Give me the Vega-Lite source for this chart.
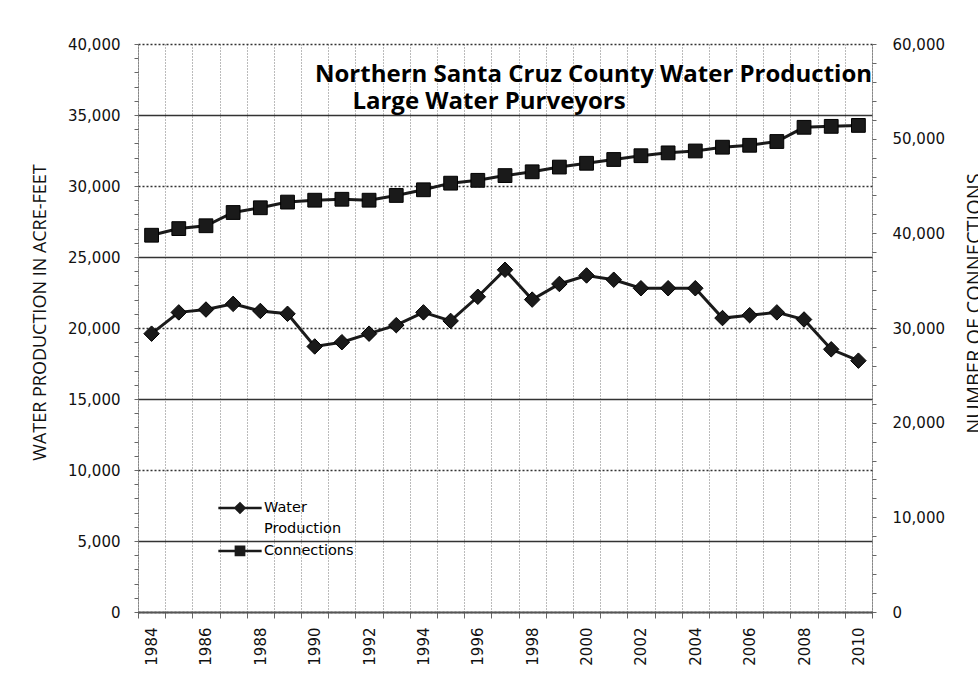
{
  "$schema": "https://vega.github.io/schema/vega-lite/v6.json",
  "width": 734,
  "height": 568,
  "autosize": {"type": "none"},
  "padding": {"left": 138, "top": 44, "right": 106, "bottom": 80},
  "background": "white",
  "config": {"view": {"stroke": null}, "font": "DejaVu Sans"},
  "title": {
    "text": ["Northern Santa Cruz County Water Production", "\u200b\u00a0\u00a0\u00a0\u00a0\u00a0\u00a0Large Water Purveyors"],
    "anchor": "start",
    "align": "left",
    "frame": "group",
    "font": "Open Sans",
    "fontSize": 24,
    "fontWeight": "bold",
    "color": "black",
    "lineHeight": 27,
    "offset": 0,
    "baseline": "alphabetic",
    "dx": 177,
    "dy": 96
  },
  "data": {
    "values": [
      {"year": "1984", "series": "Water Production", "value": 19600},
      {"year": "1985", "series": "Water Production", "value": 21100},
      {"year": "1986", "series": "Water Production", "value": 21300},
      {"year": "1987", "series": "Water Production", "value": 21700},
      {"year": "1988", "series": "Water Production", "value": 21200},
      {"year": "1989", "series": "Water Production", "value": 21000},
      {"year": "1990", "series": "Water Production", "value": 18700},
      {"year": "1991", "series": "Water Production", "value": 19000},
      {"year": "1992", "series": "Water Production", "value": 19600},
      {"year": "1993", "series": "Water Production", "value": 20200},
      {"year": "1994", "series": "Water Production", "value": 21100},
      {"year": "1995", "series": "Water Production", "value": 20500},
      {"year": "1996", "series": "Water Production", "value": 22200},
      {"year": "1997", "series": "Water Production", "value": 24100},
      {"year": "1998", "series": "Water Production", "value": 22000},
      {"year": "1999", "series": "Water Production", "value": 23100},
      {"year": "2000", "series": "Water Production", "value": 23700},
      {"year": "2001", "series": "Water Production", "value": 23400},
      {"year": "2002", "series": "Water Production", "value": 22800},
      {"year": "2003", "series": "Water Production", "value": 22800},
      {"year": "2004", "series": "Water Production", "value": 22800},
      {"year": "2005", "series": "Water Production", "value": 20700},
      {"year": "2006", "series": "Water Production", "value": 20900},
      {"year": "2007", "series": "Water Production", "value": 21100},
      {"year": "2008", "series": "Water Production", "value": 20600},
      {"year": "2009", "series": "Water Production", "value": 18500},
      {"year": "2010", "series": "Water Production", "value": 17700},
      {"year": "1984", "series": "Connections", "value": 39800},
      {"year": "1985", "series": "Connections", "value": 40500},
      {"year": "1986", "series": "Connections", "value": 40800},
      {"year": "1987", "series": "Connections", "value": 42200},
      {"year": "1988", "series": "Connections", "value": 42700},
      {"year": "1989", "series": "Connections", "value": 43300},
      {"year": "1990", "series": "Connections", "value": 43500},
      {"year": "1991", "series": "Connections", "value": 43600},
      {"year": "1992", "series": "Connections", "value": 43500},
      {"year": "1993", "series": "Connections", "value": 44000},
      {"year": "1994", "series": "Connections", "value": 44600},
      {"year": "1995", "series": "Connections", "value": 45300},
      {"year": "1996", "series": "Connections", "value": 45600},
      {"year": "1997", "series": "Connections", "value": 46100},
      {"year": "1998", "series": "Connections", "value": 46500},
      {"year": "1999", "series": "Connections", "value": 47000},
      {"year": "2000", "series": "Connections", "value": 47400},
      {"year": "2001", "series": "Connections", "value": 47800},
      {"year": "2002", "series": "Connections", "value": 48200},
      {"year": "2003", "series": "Connections", "value": 48500},
      {"year": "2004", "series": "Connections", "value": 48700},
      {"year": "2005", "series": "Connections", "value": 49100},
      {"year": "2006", "series": "Connections", "value": 49300},
      {"year": "2007", "series": "Connections", "value": 49700},
      {"year": "2008", "series": "Connections", "value": 51200},
      {"year": "2009", "series": "Connections", "value": 51300},
      {"year": "2010", "series": "Connections", "value": 51400}
    ]
  },
  "encoding": {
    "x": {
      "field": "year",
      "type": "ordinal",
      "scale": {"type": "band", "paddingInner": 0, "paddingOuter": 0},
      "axis": {
        "title": null,
        "tickBand": "extent",
        "labelAngle": -90,
        "labelExpr": "(+datum.value) % 2 === 0 ? datum.value : ''",
        "labelFont": "DejaVu Sans",
        "labelFontSize": 15,
        "labelColor": "#111",
        "labelPadding": 9,
        "tickSize": 6,
        "tickColor": "#666",
        "domainColor": "#555",
        "domainWidth": 2,
        "grid": true,
        "gridDash": [1, 2],
        "gridColor": "#777",
        "gridWidth": 1
      }
    },
    "color": {
      "field": "series",
      "type": "nominal",
      "scale": {"domain": ["Water Production", "Connections"], "range": ["#1a1a1a", "#1a1a1a"]},
      "legend": {
        "title": null,
        "orient": "none",
        "legendX": 80,
        "legendY": 442,
        "padding": 0,
        "symbolType": "M-1.05,0H1.05",
        "symbolSize": 1700,
        "symbolStrokeWidth": 2.5,
        "labelFont": "DejaVu Sans",
        "labelFontSize": 14.5,
        "labelColor": "black",
        "labelOffset": 2,
        "rowPadding": 0,
        "labelExpr": "datum.label === 'Water Production' ? ['Water', 'Production'] : datum.label",
        "encode": {
          "symbols": {
            "update": {
              "shape": {"signal": "datum.value === 'Connections' ? 'M-1.05,-0.34H1.05M-0.2,-0.54H0.2V-0.14H-0.2Z' : 'M-1.05,0H1.05M-0.22,0L0,-0.22L0.22,0L0,0.22Z'"},
              "fill": {"value": "#222"},
              "stroke": {"value": "black"},
              "strokeWidth": {"value": 2.5}
            }
          },
          "labels": {
            "update": {
              "lineHeight": {"value": 21},
              "dy": {"signal": "datum.value === 'Connections' ? -7 : 0"}
            }
          }
        }
      }
    }
  },
  "layer": [
    {
      "transform": [{"filter": "datum.series === 'Water Production'"}],
      "mark": {
        "type": "line",
        "strokeWidth": 3,
        "point": {"shape": "diamond", "size": 240, "filled": true, "stroke": "black", "strokeWidth": 1}
      },
      "encoding": {
        "y": {
          "field": "value",
          "type": "quantitative",
          "scale": {"domain": [0, 40000], "nice": false},
          "axis": {
            "orient": "left",
            "title": "WATER PRODUCTION IN ACRE-FEET",
            "values": [0,1000,2000,3000,4000,5000,6000,7000,8000,9000,10000,11000,12000,13000,14000,15000,16000,17000,18000,19000,20000,21000,22000,23000,24000,25000,26000,27000,28000,29000,30000,31000,32000,33000,34000,35000,36000,37000,38000,39000,40000],
            "labelExpr": "datum.value % 5000 === 0 ? format(datum.value, ',') : ''",
            "labelFont": "DejaVu Sans",
            "labelFontSize": 15,
            "labelColor": "#111",
            "labelPadding": 14,
            "tickSize": 4,
            "tickColor": "#666",
            "domainColor": "#555",
            "domainDash": [1, 1],
            "grid": true,
            "gridColor": "#333",
            "gridWidth": 1.3,
            "gridOpacity": {"condition": {"test": "datum.value % 5000 !== 0", "value": 0}, "value": 1},
            "gridDash": {"condition": {"test": "datum.value % 10000 === 0", "value": [2, 2]}, "value": []},
            "titleFont": "Open Sans",
            "titleFontSize": 18,
            "titleFontWeight": "normal",
            "titleColor": "#111",
            "titlePadding": 18,
            "titleY": 268
          }
        }
      }
    },
    {
      "transform": [{"filter": "datum.series === 'Connections'"}],
      "mark": {
        "type": "line",
        "strokeWidth": 3,
        "point": {"shape": "square", "size": 190, "filled": true, "stroke": "black", "strokeWidth": 1}
      },
      "encoding": {
        "y": {
          "field": "value",
          "type": "quantitative",
          "scale": {"domain": [0, 60000], "nice": false},
          "axis": {
            "orient": "right",
            "title": "NUMBER OF CONNECTIONS",
            "values": [0,2000,4000,6000,8000,10000,12000,14000,16000,18000,20000,22000,24000,26000,28000,30000,32000,34000,36000,38000,40000,42000,44000,46000,48000,50000,52000,54000,56000,58000,60000],
            "labelExpr": "datum.value % 10000 === 0 ? format(datum.value, ',') : ''",
            "labelFont": "DejaVu Sans",
            "labelFontSize": 15,
            "labelColor": "#111",
            "labelPadding": 16,
            "tickSize": 4,
            "tickColor": "#666",
            "domainColor": "#555",
            "domainDash": [1, 1],
            "grid": false,
            "titleFont": "Open Sans",
            "titleFontSize": 20,
            "titleFontWeight": "normal",
            "titleColor": "#111",
            "titleAngle": 270,
            "titleBaseline": "top",
            "titlePadding": 20,
            "titleY": 259
          }
        }
      }
    }
  ],
  "resolve": {"scale": {"y": "independent"}}
}
